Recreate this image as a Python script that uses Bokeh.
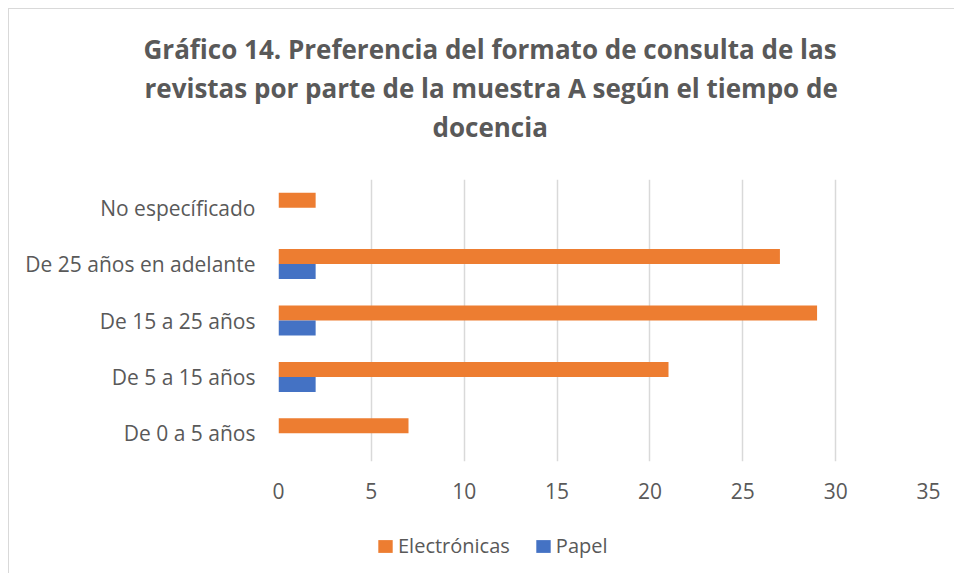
from bokeh.plotting import figure
from bokeh.layouts import column
from bokeh.models import (ColumnDataSource, FactorRange, Range1d, FixedTicker, Title,
                          Legend, LegendItem)
from bokeh.transform import dodge
from bokeh.embed import file_html
from bokeh.resources import INLINE

# ---- data ----
categories = ["De 0 a 5 años", "De 5 a 15 años", "De 15 a 25 años",
              "De 25 años en adelante", "No específicado"]
electronicas = [7, 21, 29, 27, 2]
papel = [0, 2, 2, 2, 0]
x_ticks = [0, 5, 10, 15, 20, 25, 30, 35]
series_names = ["Electrónicas", "Papel"]
title_lines = ["Gráfico 14. Preferencia del formato de consulta de las",
               "revistas por parte de la muestra A según el tiempo de",
               "docencia"]

# ---- style ----
TEXT = "#595959"
GRID = "#d9d9d9"
ORANGE = "#ED7D31"
BLUE = "#4472C4"
FONT = "Open Sans"
BORDER = "1px solid #d9d9d9"
bar_h = 0.266

source = ColumnDataSource(dict(cat=categories, elec=electronicas, pap=papel))


def bare(fig):
    fig.outline_line_color = None
    fig.grid.visible = False


# ---- title strip ----
t = figure(width=946, height=171, x_range=Range1d(0, 1), y_range=Range1d(0, 1),
           output_backend="svg", toolbar_location=None, title=None,
           x_axis_location=None, y_axis_location=None,
           min_border_left=269, min_border_right=27, min_border_top=136, min_border_bottom=0)
bare(t)
t.styles = {"border-top": BORDER, "border-left": BORDER,
            "margin-top": "8px", "margin-left": "8px"}
title_offsets = [-135, -134, 154]
for txt, off in reversed(list(zip(title_lines, title_offsets))):
    t.add_layout(Title(text=txt, align="left", offset=off, standoff=1,
                       text_font=FONT, text_font_style="bold",
                       text_font_size="26px", text_color=TEXT), "above")

# ---- chart ----
p = figure(width=946, height=339,
           y_range=FactorRange(factors=categories),
           x_range=Range1d(0, 35),
           output_backend="svg", toolbar_location=None, title=None,
           min_border_left=269, min_border_right=27,
           min_border_top=0, min_border_bottom=57)
p.outline_line_color = None
p.styles = {"border-left": BORDER, "margin-left": "8px"}

p.hbar(y=dodge("cat", bar_h / 2, range=p.y_range), left=0, right="elec",
       height=bar_h, source=source, fill_color=ORANGE, line_color=None)
p.hbar(y=dodge("cat", -bar_h / 2, range=p.y_range), left=0, right="pap",
       height=bar_h, source=source, fill_color=BLUE, line_color=None)

p.xaxis.ticker = FixedTicker(ticks=x_ticks)
for ax in (p.xaxis[0], p.yaxis[0]):
    ax.axis_line_color = None
    ax.major_tick_line_color = None
    ax.minor_tick_line_color = None
    ax.major_tick_out = 0
    ax.major_tick_in = 0
    ax.major_label_text_font = FONT
    ax.major_label_text_color = TEXT
    ax.major_label_text_font_size = "21px"
p.xaxis.major_label_standoff = 21
p.yaxis.major_label_standoff = 23

p.xgrid.grid_line_color = GRID
p.xgrid.grid_line_width = 1.5
p.ygrid.grid_line_color = None

# ---- legend strip (same series, hidden, only for the swatches) ----
q = figure(width=946, height=55, x_range=Range1d(0, 35),
           y_range=FactorRange(factors=categories),
           output_backend="svg", toolbar_location=None, title=None,
           x_axis_location=None, y_axis_location=None,
           min_border_left=269, min_border_right=27, min_border_top=0, min_border_bottom=0)
bare(q)
q.styles = {"border-left": BORDER, "margin-left": "8px"}
k1 = q.hbar(y=dodge("cat", bar_h / 2, range=q.y_range), left=0, right="elec",
            height=bar_h, source=source, fill_color=ORANGE, line_color=None, visible=False)
k2 = q.hbar(y=dodge("cat", -bar_h / 2, range=q.y_range), left=0, right="pap",
            height=bar_h, source=source, fill_color=BLUE, line_color=None, visible=False)
legend = Legend(items=[LegendItem(label=series_names[0], renderers=[k1]),
                       LegendItem(label=series_names[1], renderers=[k2])],
                orientation="horizontal", location=(98, 14), padding=0,
                margin=0, spacing=24, label_standoff=4, glyph_width=18,
                glyph_height=16, border_line_color=None, background_fill_alpha=0,
                label_text_font=FONT, label_text_font_size="20px",
                label_text_color=TEXT, label_height=20)
q.add_layout(legend)

lay = column(t, p, q, spacing=0)
open("out.html", "w").write(file_html(lay, INLINE))
